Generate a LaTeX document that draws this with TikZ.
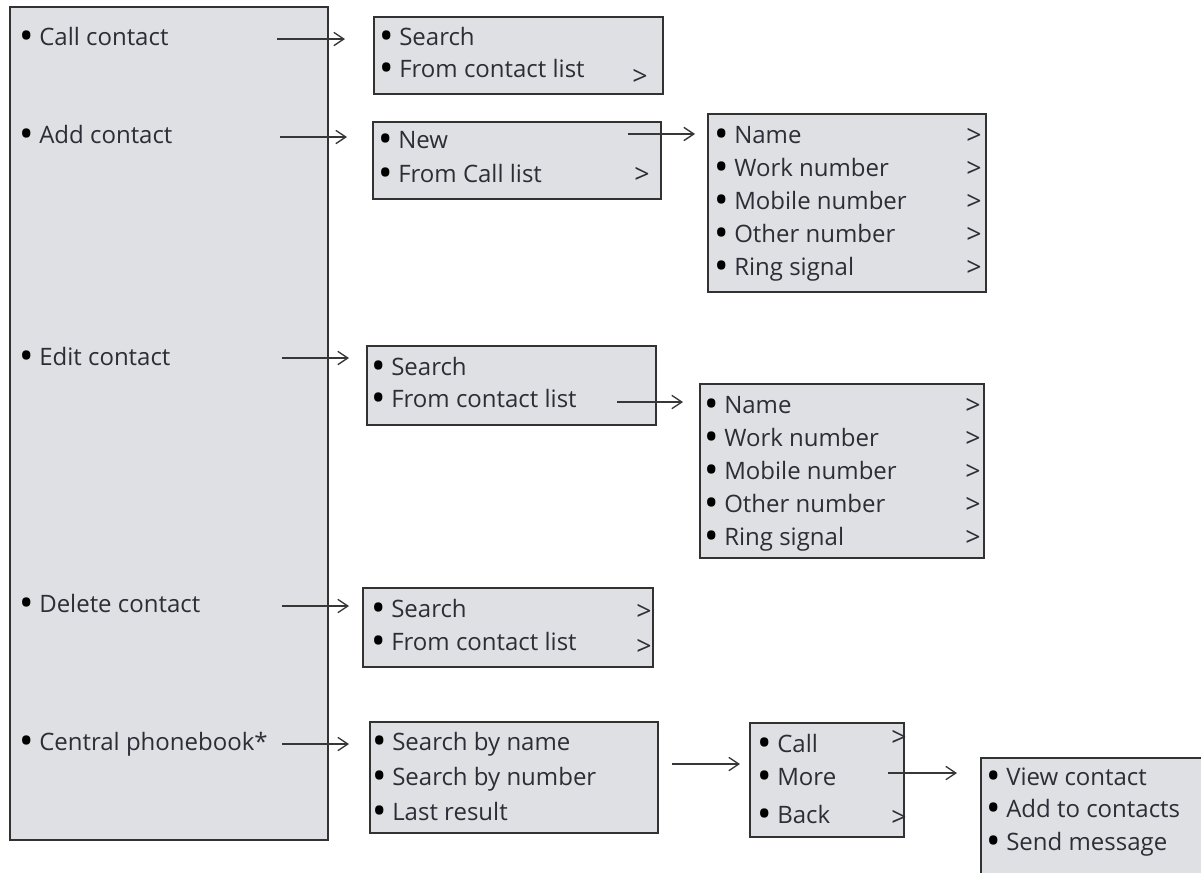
\documentclass[tikz,border=0pt]{standalone}
\usepackage{fontspec}
\setmainfont{Open Sans}
\usetikzlibrary{arrows.meta}
\definecolor{boxfill}{RGB}{223,224,227}
\definecolor{boxline}{RGB}{50,50,50}
\definecolor{txt}{RGB}{45,45,55}
\definecolor{arr}{RGB}{55,55,55}
\newcommand{\itm}[1]{\makebox[15pt][l]{\smash{\raisebox{-3pt}{\scalebox{1.6}{\textcolor{black}{•}}}}}#1}
\begin{document}
\begin{tikzpicture}[x=0.75pt,y=-0.75pt,
  panel/.style={draw=boxline, line width=1.3pt, fill=boxfill, anchor=north west, inner sep=0pt, outer sep=0pt},
  itemtext/.style={anchor=base west, inner sep=0pt, text=txt, font=\fontsize{18}{22}\selectfont},
  chev/.style={anchor=base west, inner sep=0pt, text=txt, font=\fontsize{20}{22}\selectfont},
  link/.style={draw=arr, line width=0.8pt, -{Straight Barb[length=7.5pt,width=10pt,line width=1pt]}}]
\useasboundingbox (0,0) rectangle (1201,872);
\clip (0,0) rectangle (1201,872);

% panels
\node[panel, minimum width=238.5pt, minimum height=624.75pt] (main) at (10,7) {};
\node[panel, minimum width=216.75pt, minimum height=57.75pt] (A) at (374,17) {};
\node[panel, minimum width=216pt, minimum height=57.75pt] (B) at (373,122) {};
\node[panel, minimum width=208.5pt, minimum height=133.5pt] (C) at (708,114) {};
\node[panel, minimum width=216.75pt, minimum height=59.25pt] (D) at (367,346) {};
\node[panel, minimum width=213pt, minimum height=130.5pt] (E) at (700,384) {};
\node[panel, minimum width=217.5pt, minimum height=59.25pt] (F) at (363,588) {};
\node[panel, minimum width=216pt, minimum height=83.25pt] (G) at (370,722) {};
\node[panel, minimum width=115.5pt, minimum height=85.5pt] (H) at (750,723) {};
\node[panel, minimum width=175.5pt, minimum height=99pt] (I) at (981,758) {};

% main menu
\node[itemtext] (m1) at (19,45) {\itm{Call contact}};
\node[itemtext] (m2) at (19,143) {\itm{Add contact}};
\node[itemtext] (m3) at (19,365) {\itm{Edit contact}};
\node[itemtext] (m4) at (19,612) {\itm{Delete contact}};
\node[itemtext] (m5) at (19,750) {\itm{Central phonebook*}};

% A
\node[itemtext] (a1) at (379,45) {\itm{Search}};
\node[itemtext] (a2) at (379,77) {\itm{From contact list}};
\node[chev] (ac) at (632,85) {>};

% B
\node[itemtext] (b1) at (378,148) {\itm{New}};
\node[itemtext] (b2) at (378,182) {\itm{From Call list}};
\node[chev] (bc) at (634,183) {>};

% C
\node[itemtext] (c1) at (714,143) {\itm{Name}};
\node[itemtext] (c2) at (714,176) {\itm{Work number}};
\node[itemtext] (c3) at (714,209) {\itm{Mobile number}};
\node[itemtext] (c4) at (714,242) {\itm{Other number}};
\node[itemtext] (c5) at (714,275) {\itm{Ring signal}};
\node[chev] (cc1) at (966,144) {>};
\node[chev] (cc2) at (966,177) {>};
\node[chev] (cc3) at (966,210) {>};
\node[chev] (cc4) at (966,243) {>};
\node[chev] (cc5) at (966,276) {>};

% D
\node[itemtext] (d1) at (371,375) {\itm{Search}};
\node[itemtext] (d2) at (371,407) {\itm{From contact list}};

% E
\node[itemtext] (e1) at (704,413) {\itm{Name}};
\node[itemtext] (e2) at (704,446) {\itm{Work number}};
\node[itemtext] (e3) at (704,479) {\itm{Mobile number}};
\node[itemtext] (e4) at (704,512) {\itm{Other number}};
\node[itemtext] (e5) at (704,545) {\itm{Ring signal}};
\node[chev] (ec1) at (965,414) {>};
\node[chev] (ec2) at (965,447) {>};
\node[chev] (ec3) at (965,480) {>};
\node[chev] (ec4) at (965,513) {>};
\node[chev] (ec5) at (965,546) {>};

% F
\node[itemtext] (f1) at (371,617) {\itm{Search}};
\node[itemtext] (f2) at (371,650) {\itm{From contact list}};
\node[chev] (fc1) at (636,620) {>};
\node[chev] (fc2) at (636,655) {>};

% G
\node[itemtext] (g1) at (372,750) {\itm{Search by name}};
\node[itemtext] (g2) at (372,785) {\itm{Search by number}};
\node[itemtext] (g3) at (372,820) {\itm{Last result}};

% H
\node[itemtext] (h1) at (757,752) {\itm{Call}};
\node[itemtext] (h2) at (757,785) {\itm{More}};
\node[itemtext] (h3) at (757,823) {\itm{Back}};
\node[chev] (hc1) at (891,746) {>};
\node[chev] (hc3) at (891,826) {>};

% I
\node[itemtext] (i1) at (986,785) {\itm{View contact}};
\node[itemtext] (i2) at (986,817) {\itm{Add to contacts}};
\node[itemtext] (i3) at (986,850) {\itm{Send message}};

% connector ends
\coordinate (s1) at (277,39);  \coordinate (t1) at (345,39);
\coordinate (s2) at (280,137); \coordinate (t2) at (347,137);
\coordinate (s3) at (628,134); \coordinate (t3) at (695,134);
\coordinate (s4) at (282,358); \coordinate (t4) at (349,358);
\coordinate (s5) at (617,402); \coordinate (t5) at (683,402);
\coordinate (s6) at (282,606); \coordinate (t6) at (349,606);
\coordinate (s7) at (282,744); \coordinate (t7) at (349,744);
\coordinate (s8) at (672,764); \coordinate (t8) at (740,764);
\coordinate (s9) at (888,773); \coordinate (t9) at (957,773);

\draw[link] (s1) -- (t1);
\draw[link] (s2) -- (t2);
\draw[link] (s3) -- (t3);
\draw[link] (s4) -- (t4);
\draw[link] (s5) -- (t5);
\draw[link] (s6) -- (t6);
\draw[link] (s7) -- (t7);
\draw[link] (s8) -- (t8);
\draw[link] (s9) -- (t9);
\end{tikzpicture}
\end{document}
